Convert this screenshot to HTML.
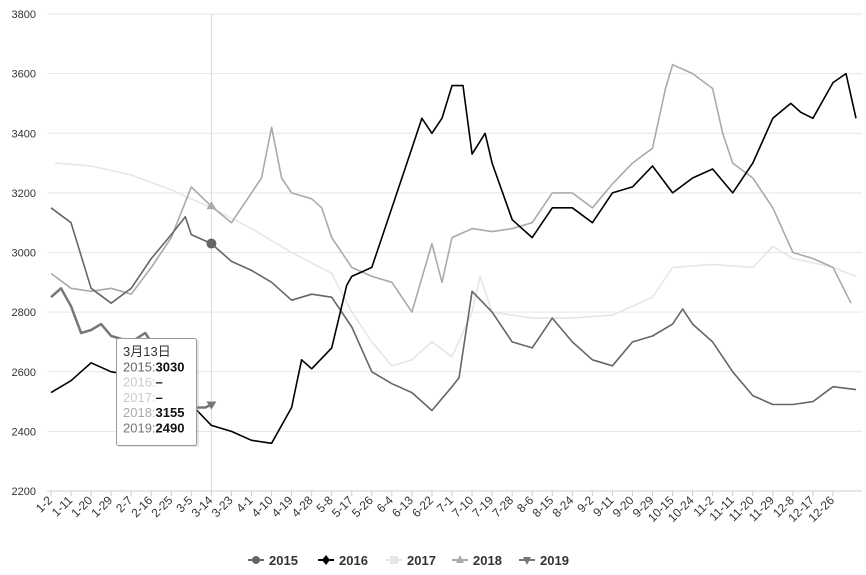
<!DOCTYPE html>
<html><head><meta charset="utf-8"><style>
body{margin:0;background:#fff;font-family:"Liberation Sans","Noto Sans CJK SC",sans-serif}
svg{display:block}
</style></head><body>
<svg id="c" width="866" height="575" font-family="Liberation Sans, Noto Sans CJK SC, sans-serif"></svg>
<script>
const categories=["1-2","1-11","1-20","1-29","2-7","2-16","2-25","3-5","3-14","3-23","4-1","4-10","4-19","4-28","5-8","5-17","5-26","6-4","6-13","6-22","7-1","7-10","7-19","7-28","8-6","8-15","8-24","9-2","9-11","9-20","9-29","10-15","10-24","11-2","11-11","11-20","11-29","12-8","12-17","12-26"];
const yTicks=[2200,2400,2600,2800,3000,3200,3400,3600,3800];
const seriesNames=["2015","2016","2017","2018","2019"];
const x2015=[0,1,2,3,4,5,6,6.7,7,8,9,10,11,12,13,14,15,16,17,18,19,20,20.35,21,22,23,24,25,26,27,28,29,30,31,31.5,32,33,34,35,36,37,38,39,40.15];
const v2015=[3150,3100,2880,2830,2880,2980,3060,3120,3060,3030,2970,2940,2900,2840,2860,2850,2750,2600,2560,2530,2470,2550,2580,2870,2800,2700,2680,2780,2700,2640,2620,2700,2720,2760,2810,2760,2700,2600,2520,2490,2490,2500,2550,2540];
const x2016=[0,1,2,3,4,7,8,9,10,11,12,12.5,13,14,14.75,15,16,17,18,18.5,19,19.5,20,20.55,21,21.65,22,23,24,25,26,27,28,29,30,31,32,33,34,35,36,36.9,37.4,38,39,39.65,40.15];
const v2016=[2530,2570,2630,2600,2590,2490,2420,2400,2370,2360,2480,2640,2610,2680,2890,2920,2950,3150,3350,3450,3400,3450,3560,3560,3330,3400,3300,3110,3050,3150,3150,3100,3200,3220,3290,3200,3250,3280,3200,3300,3450,3500,3470,3450,3570,3600,3450];
const x2017=[0.2,2,4,6,8,10,12,14,15,16,17,18,19,20,21,21.4,22,24,26,28,30,31,33,35,36,37,39,40.15];
const v2017=[3300,3290,3260,3210,3150,3080,3000,2930,2800,2700,2620,2640,2700,2650,2800,2920,2800,2780,2780,2790,2850,2950,2960,2950,3020,2980,2950,2920];
const x2018=[0,1,2,3,4,5,6,7,8,9,10,10.5,11,11.5,12,13,13.5,14,15,16,17,18,19,19.5,20,21,22,23,24,25,26,27,28,29,30,30.65,31,32,33,33.5,34,35,36,37,38,39,39.9];
const v2018=[2930,2880,2870,2880,2860,2950,3050,3220,3155,3100,3200,3250,3420,3250,3200,3180,3150,3050,2950,2920,2900,2800,3030,2900,3050,3080,3070,3080,3100,3200,3200,3150,3230,3300,3350,3550,3630,3600,3550,3400,3300,3250,3150,3000,2980,2950,2830];
const x2019=[0,0.5,1,1.5,2,2.5,3,4,4.7,6,7,7.7,8];
const v2019=[2850,2880,2820,2730,2740,2760,2720,2700,2730,2600,2480,2480,2490];
const colors=["#666","#000","#e6e6e6","#aaa","#777"];
const L=51,STEP=20.05,T=14,B=491;
const X=i=>L+i*STEP;
const Y=v=>B-(v-2200)*(B-T)/1600;
const svg=document.getElementById('c');
const NS="http://www.w3.org/2000/svg";
function mk(tag,at,par){const e=document.createElementNS(NS,tag);for(const k in at)e.setAttribute(k,at[k]);(par||svg).appendChild(e);return e;}
yTicks.forEach(t=>{
 const g=mk('line',{x1:L-4,x2:862,y1:Y(t),y2:Y(t),stroke:"#e6e6e6"});
 
 
 const tx=mk('text',{x:36,y:Y(t)+4,'text-anchor':'end','font-size':11,fill:'#333'});tx.textContent=t;
 
 
});
const ax=mk('line',{x1:L-4,x2:862,y1:B,y2:B,stroke:"#ccc"});


categories.forEach((c,i)=>{
 const tk=mk('line',{x1:X(i),x2:X(i),y1:B,y2:B+5,stroke:"#ccc"});
 
 
 const ex=X(i)+2,ey=B+10;
 const tx=mk('text',{x:ex,y:ey,'text-anchor':'end','font-size':12,fill:'#333',transform:`rotate(-45 ${ex} ${ey})`});tx.textContent=c;
 
 
});
const cross=mk('line',{x1:X(8),x2:X(8),y1:T,y2:B,stroke:"#ddd"});


const xs=[x2015,x2016,x2017,x2018,x2019],vs=[v2015,v2016,v2017,v2018,v2019];
[2,3,0,4,1].forEach(s=>{
 const d=xs[s].map((x,i)=>(i?'L':'M')+X(x).toFixed(1)+','+Y(vs[s][i]).toFixed(1)).join('');
 const p=mk('path',{d:d,fill:'none',stroke:colors[s],'stroke-width':s==4?2.5:1.6,'stroke-linejoin':'round'});
 
 
});
const m1=mk('circle',{cx:X(8),cy:Y(3030),r:5,fill:colors[0]});


const m2=mk('path',{d:`M${X(8)},${Y(3155)-5}l5,8h-10z`,fill:colors[3]});


const m3=mk('path',{d:`M${X(8)},${Y(2490)+5}l5,-8h-10z`,fill:colors[4]});


const tg=mk('g',{});


mk('rect',{x:117,y:339,width:81,height:107,fill:'#aaa',opacity:.3,transform:'translate(1,1)'},tg);
mk('rect',{x:116.5,y:338.5,width:80,height:107,fill:'#fff',stroke:'#999',rx:2},tg);
const tt=[["3月13日",""],["2015:","3030"],["2016:","–"],["2017:","–"],["2018:","3155"],["2019:","2490"]];
const tcol=["#333","#666","#ccc","#ccc","#aaa","#777"];
tt.forEach((r,i)=>{
 const t=mk('text',{x:123,y:356+i*15.3,'font-size':13,fill:tcol[i]},tg);
 t.textContent=r[0];
 if(r[1]){const b=mk('tspan',{fill:'#111','font-weight':'bold'},t);b.textContent=r[1];}
});
const lx=[248,318,386,452,519];
const LY=560;
seriesNames.forEach((n,i)=>{
 const g=mk('g',{});
 
 
 mk('line',{x1:lx[i],x2:lx[i]+16,y1:LY,y2:LY,stroke:colors[i],'stroke-width':2},g);
 if(i==0)mk('circle',{cx:lx[i]+8,cy:LY,r:4,fill:colors[i]},g);
 else if(i==1)mk('path',{d:`M${lx[i]+8},${LY-5}l4,5l-4,5l-4,-5z`,fill:colors[i]},g);
 else if(i==2)mk('rect',{x:lx[i]+4,y:LY-4,width:8,height:8,fill:colors[i]},g);
 else if(i==3)mk('path',{d:`M${lx[i]+8},${LY-5}l4,8h-8z`,fill:colors[i]},g);
 else mk('path',{d:`M${lx[i]+8},${LY+5}l4,-8h-8z`,fill:colors[i]},g);
 const t=mk('text',{x:lx[i]+21,y:LY+5,'font-size':13,'font-weight':'bold',fill:'#333'},g);t.textContent=n;
});
</script>
</body></html>
